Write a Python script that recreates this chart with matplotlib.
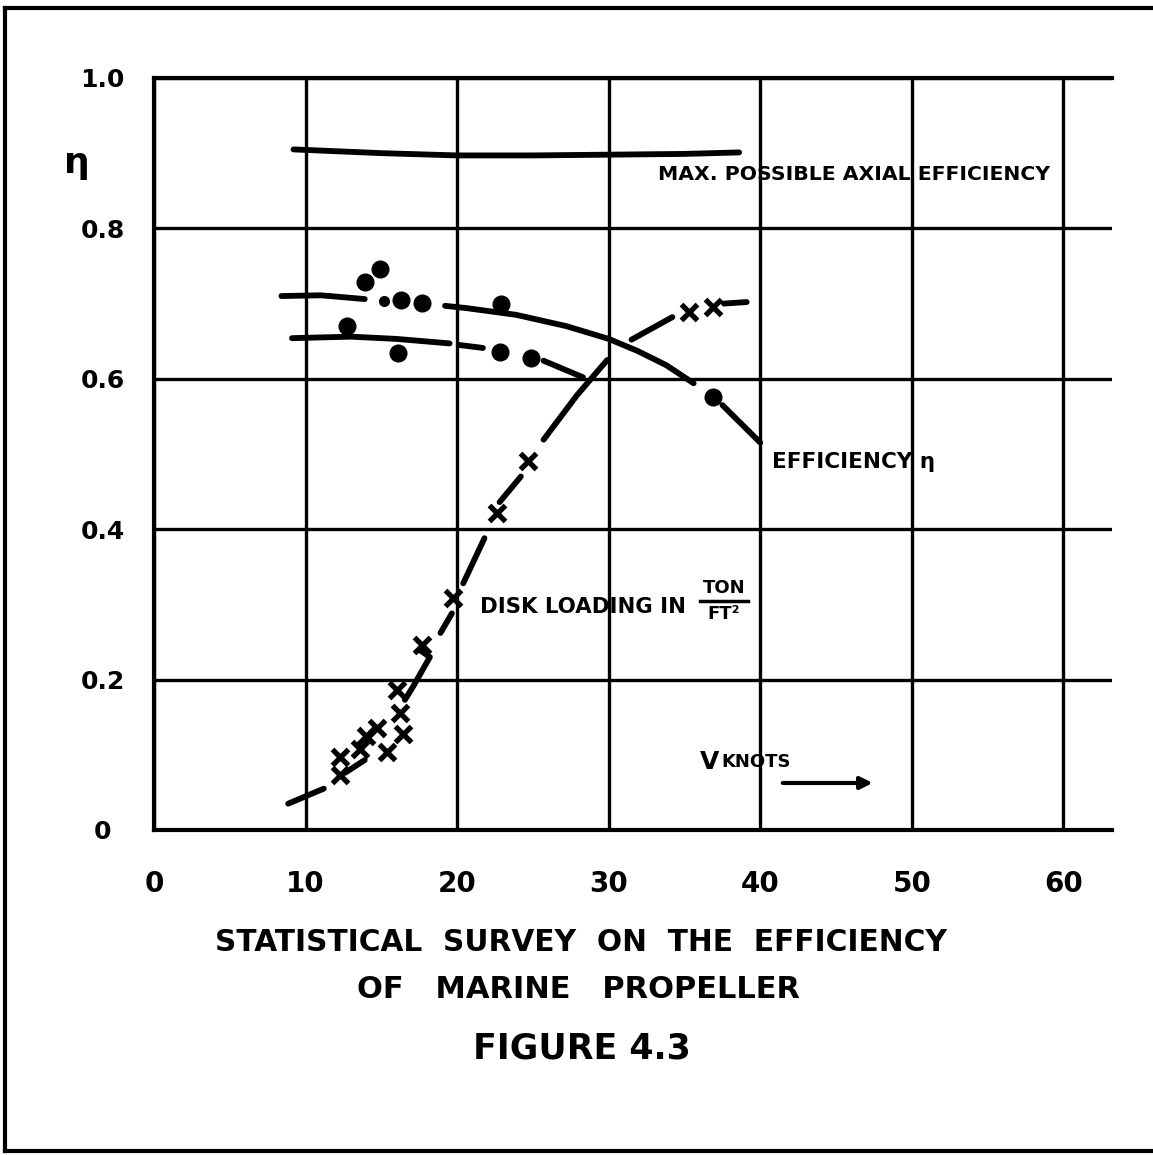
import numpy as np
import matplotlib
matplotlib.use("Agg")
import matplotlib.pyplot as plt
from matplotlib.lines import Line2D

nan = np.nan

# axis ticks
x_ticks = [0, 10, 20, 30, 40, 50, 60]
y_ticks = [0, 0.2, 0.4, 0.6, 0.8, 1.0]
y_tick_labels = ["0", "0.2", "0.4", "0.6", "0.8", "1.0"]

# max. possible axial efficiency (hand drawn line)
max_eff_x = [9.2, 15, 20, 25, 30, 35, 38.6]
max_eff_y = [0.905, 0.900, 0.897, 0.897, 0.898, 0.899, 0.901]

# efficiency, upper solid curve (nan = pen lifted)
eff_hi_x = [8.4, 11.0, 13.9, nan, 19.2, 20.6, 23.9, 27.2, 30.0, 31.9, 33.8, 35.6, nan, 37.5, 40.0]
eff_hi_y = [0.710, 0.711, 0.706, nan, 0.697, 0.694, 0.685, 0.670, 0.653, 0.637, 0.618, 0.594, nan, 0.565, 0.515]

# efficiency, lower broken curve
eff_lo_x = [9.1, 13.0, 16.0, 19.5, nan, 20.1, 21.7, nan, 25.7, 28.3]
eff_lo_y = [0.654, 0.656, 0.653, 0.647, nan, 0.645, 0.641, nan, 0.624, 0.602]

# efficiency data points (dots)
eff_pts_x = [12.7, 13.9, 14.9, 16.3, 17.7, 16.1, 22.9, 22.8, 24.9, 36.9]
eff_pts_y = [0.670, 0.729, 0.746, 0.705, 0.701, 0.634, 0.700, 0.636, 0.627, 0.576]
small_pt_x = [15.2]
small_pt_y = [0.704]

# disk loading curve (broken)
dl_line_x = [8.85, 11.2, nan, 12.6, 13.9, nan, 16.55, 17.1, 18.2, 17.55, nan, 18.9, 19.65,
             nan, 20.4, 21.8, nan, 22.8, 24.2, nan, 25.7, 27.9, 29.9, nan, 31.5, 34.2,
             nan, 37.6, 39.1]
dl_line_y = [0.035, 0.055, nan, 0.076, 0.093, nan, 0.173, 0.191, 0.230, 0.239, nan, 0.262, 0.288,
             nan, 0.328, 0.388, nan, 0.436, 0.470, nan, 0.519, 0.578, 0.625, nan, 0.652, 0.682,
             nan, 0.700, 0.702]

# disk loading data points (crosses)
dl_pts_x = [12.3, 12.3, 13.6, 14.0, 14.7, 15.35, 16.0, 16.2, 16.4, 17.65, 19.75, 22.6, 24.7, 35.3, 36.9]
dl_pts_y = [0.097, 0.073, 0.108, 0.125, 0.135, 0.104, 0.186, 0.155, 0.128, 0.246, 0.308, 0.421, 0.490, 0.689, 0.696]

plt.rcParams['font.family'] = ['DejaVu Sans']
plt.rcParams['font.weight'] = 'bold'

fig = plt.figure(figsize=(11.53, 11.55), dpi=100)
ax = fig.add_axes([0.1336, 0.2814, 0.9644 - 0.1336, 0.9325 - 0.2814])

ax.set_xlim(0, 63.2)
ax.set_ylim(0, 1.0)

# grid
for s in ['left', 'bottom', 'top']:
    ax.spines[s].set_linewidth(3)
ax.spines['right'].set_visible(False)
ax.set_xticks(x_ticks)
ax.set_yticks(y_ticks)
ax.set_yticklabels(y_tick_labels)
ax.grid(True, color='black', linewidth=2.4)
ax.tick_params(length=0)
ax.tick_params(axis='x', pad=29, labelsize=20)
ax.tick_params(axis='y', pad=37, labelsize=18)
for lbl in ax.get_yticklabels():
    lbl.set_horizontalalignment('center')
for lbl in ax.get_xticklabels() + ax.get_yticklabels():
    lbl.set_fontweight('bold')

# curves
ax.plot(max_eff_x, max_eff_y, color='black', lw=4.2, solid_capstyle='round', zorder=3)
ax.plot(eff_hi_x, eff_hi_y, color='black', lw=4.2, solid_capstyle='round', zorder=3)
ax.plot(eff_lo_x, eff_lo_y, color='black', lw=4.2, solid_capstyle='round', zorder=3)
ax.plot(dl_line_x, dl_line_y, color='black', lw=4.2, solid_capstyle='round', zorder=3)

ax.plot(eff_pts_x, eff_pts_y, 'o', color='black', ms=12, zorder=4)
ax.plot(small_pt_x, small_pt_y, 'o', color='black', ms=7, zorder=4)
ax.plot(dl_pts_x, dl_pts_y, 'x', color='black', ms=11, mew=3.8, zorder=4)

# annotations
ax.text(46.2, 0.872, "MAX. POSSIBLE AXIAL EFFICIENCY", ha='center', va='center',
        fontsize=14.7, fontweight='bold')
ax.text(40.8, 0.489, "EFFICIENCY \u03b7", ha='left', va='center',
        fontsize=15.5, fontweight='bold')
ax.text(21.5, 0.297, "DISK LOADING IN", ha='left', va='center',
        fontsize=15.3, fontweight='bold')
ax.text(37.6, 0.322, "TON", ha='center', va='center', fontsize=13, fontweight='bold')
ax.plot([36.0, 39.2], [0.305, 0.305], color='black', lw=2.5)
ax.text(37.6, 0.287, "FT\u00b2", ha='center', va='center', fontsize=13, fontweight='bold')
ax.text(36.0, 0.091, "V", ha='left', va='center', fontsize=18, fontweight='bold')
ax.text(37.4, 0.091, "KNOTS", ha='left', va='center', fontsize=13, fontweight='bold')
ax.annotate("", xy=(47.6, 0.0625), xytext=(41.3, 0.0625),
            arrowprops=dict(arrowstyle='-|>', color='black', lw=3, mutation_scale=18))

fig.text(0.0668, 0.8589, "\u03b7", ha='center', va='center', fontsize=26, fontweight='bold')

# caption
fig.text(0.504, 0.1844, "STATISTICAL  SURVEY  ON  THE  EFFICIENCY", ha='center', va='center',
         fontsize=21.3, fontweight='bold')
fig.text(0.502, 0.1429, "OF   MARINE   PROPELLER", ha='center', va='center',
         fontsize=22, fontweight='bold')
fig.text(0.505, 0.0926, "FIGURE 4.3", ha='center', va='center',
         fontsize=25, fontweight='bold')

# page frame (open on the right)
fig.add_artist(Line2D([0.0043, 1.0], [0.993, 0.993], color='black', lw=3, transform=fig.transFigure))
fig.add_artist(Line2D([0.0043, 1.0], [0.0035, 0.0035], color='black', lw=3, transform=fig.transFigure))
fig.add_artist(Line2D([0.0043, 0.0043], [0.0035, 0.993], color='black', lw=3, transform=fig.transFigure))

fig.savefig("out.png", dpi=100, facecolor='white')
